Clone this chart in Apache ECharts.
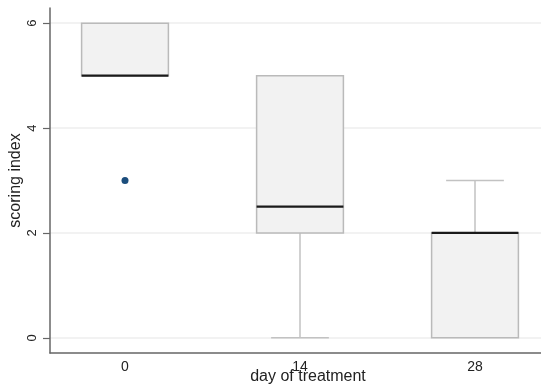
<!DOCTYPE html>
<html>
<head>
<meta charset="utf-8">
<script src="https://cdn.jsdelivr.net/npm/echarts@6/dist/echarts.min.js"></script>
<style>html,body{margin:0;padding:0;background:#fff}#c{width:541px;height:385px}</style>
</head>
<body>
<div id="c"></div>
<script>
// ---- data ----
const days = ['0', '14', '28'];
const whiskerLow = [5, 0, 0];
const q1 = [5, 2, 0];
const median = [5, 2.5, 2];
const q3 = [6, 5, 2];
const whiskerHigh = [6, 5, 3];
const outlierDay = ['0'];
const outlierValue = [3];
const yTicks = [0, 2, 4, 6];

const FONT = 'Liberation Sans, Arial, sans-serif';
const chart = echarts.init(document.getElementById('c'), null, {renderer: 'canvas'});

const boxData = days.map((d, i) => [i, whiskerLow[i], q1[i], median[i], q3[i], whiskerHigh[i]]);
const outData = outlierDay.map((d, i) => [days.indexOf(d), outlierValue[i]]);

function renderBox(params, api) {
  const idx = api.value(0);
  const band = api.size([1, 0])[0];
  const cx = api.coord([idx, 0])[0];
  const yOf = v => api.coord([idx, v])[1];
  const hb = band * 0.248, hc = band * 0.165;
  const yLo = yOf(api.value(1)), yQ1 = yOf(api.value(2)), yMed = yOf(api.value(3)),
        yQ3 = yOf(api.value(4)), yHi = yOf(api.value(5));
  const wStyle = {stroke: '#c2c2c2', lineWidth: 1.5};
  const children = [];
  if (Math.abs(yHi - yQ3) > 0.5) {
    children.push({type: 'line', shape: {x1: cx, y1: yQ3, x2: cx, y2: yHi}, style: wStyle});
    children.push({type: 'line', shape: {x1: cx - hc, y1: yHi, x2: cx + hc, y2: yHi}, style: wStyle});
  }
  if (Math.abs(yLo - yQ1) > 0.5) {
    children.push({type: 'line', shape: {x1: cx, y1: yQ1, x2: cx, y2: yLo}, style: wStyle});
    children.push({type: 'line', shape: {x1: cx - hc, y1: yLo, x2: cx + hc, y2: yLo}, style: wStyle});
  }
  children.push({type: 'rect', shape: {x: cx - hb, y: yQ3, width: 2 * hb, height: yQ1 - yQ3},
    style: {fill: '#f2f2f2', stroke: '#bababa', lineWidth: 1.5}});
  children.push({type: 'line', shape: {x1: cx - hb, y1: yMed, x2: cx + hb, y2: yMed},
    style: {stroke: '#1a1a1a', lineWidth: 2.2}});
  return {type: 'group', children};
}

chart.setOption({
  animation: false,
  backgroundColor: '#fff',
  textStyle: {fontFamily: FONT},
  grid: [
    {left: 50, top: 8, bottom: 32, width: 516, outerBoundsMode: 'none', containLabel: false},
    {left: 37.5, top: 8, bottom: 32, width: 525, outerBoundsMode: 'none', containLabel: false}
  ],
  xAxis: [
    {
      gridIndex: 0, type: 'value', min: 0, max: 1,
      axisLine: {show: true, onZero: false, lineStyle: {color: '#666', width: 1.5}},
      axisTick: {show: false}, axisLabel: {show: false}, splitLine: {show: false},
      name: 'day of treatment', nameLocation: 'middle', nameGap: 16, nameMoveOverlap: false,
      nameTextStyle: {fontFamily: FONT, fontSize: 16, color: '#222'}
    },
    {
      gridIndex: 1, type: 'category', data: days,
      axisLine: {show: false, onZero: false}, axisTick: {show: false},
      axisLabel: {fontFamily: FONT, fontSize: 14, color: '#222', margin: 7},
      splitLine: {show: false}
    }
  ],
  yAxis: [
    {
      gridIndex: 0, type: 'value', min: -0.29, max: 6.29,
      axisLine: {show: true, lineStyle: {color: '#666', width: 1.5}},
      axisTick: {show: true, length: 7, customValues: yTicks, lineStyle: {color: '#666', width: 1.2}},
      axisLabel: {customValues: yTicks, rotate: 90, margin: 11, fontFamily: FONT, fontSize: 13, color: '#222'},
      splitLine: {show: true, lineStyle: {color: '#eeeeee', width: 1.5}},
      name: 'scoring index', nameLocation: 'middle', nameGap: 26, nameMoveOverlap: false,
      nameTextStyle: {fontFamily: FONT, fontSize: 16, color: '#222'}
    },
    {
      gridIndex: 1, type: 'value', min: -0.29, max: 6.29, show: false,
      splitLine: {show: false}
    }
  ],
  series: [
    {
      type: 'custom', xAxisIndex: 1, yAxisIndex: 1,
      renderItem: renderBox, data: boxData,
      encode: {x: 0, y: [1, 2, 3, 4, 5]}
    },
    {
      type: 'scatter', xAxisIndex: 1, yAxisIndex: 1,
      data: outData, symbolSize: 7,
      itemStyle: {color: '#1b4d7c', opacity: 1}
    }
  ]
});
</script>
</body>
</html>
